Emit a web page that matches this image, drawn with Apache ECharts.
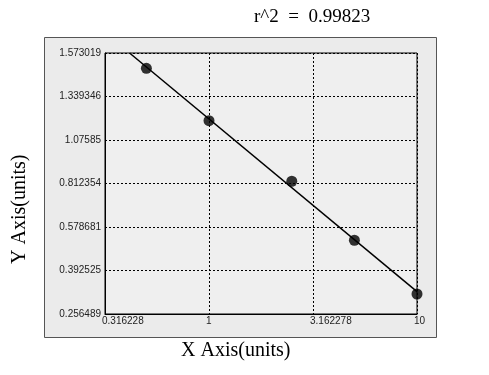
<!DOCTYPE html>
<html>
<head>
<meta charset="utf-8">
<script src="https://cdn.jsdelivr.net/npm/echarts@6/dist/echarts.min.js"></script>
<style>html,body{margin:0;padding:0;background:#fff;}#c{width:489px;height:375px;}</style>
</head>
<body>
<div id="c"></div>
<script>
// ---- data ----
var titleText = 'r^2  =  0.99823';
var xAxisTitle = 'X Axis(units)';
var yAxisTitle = 'Y Axis(units)';
var xTicks = [0.316228, 1, 3.162278, 10];
var xTickLabels = ['0.316228', '1', '3.162278', '10'];
var yTicks = [0.256489, 0.392525, 0.578681, 0.812354, 1.07585, 1.339346, 1.573019];
var yTickLabels = ['0.256489', '0.392525', '0.578681', '0.812354', '1.07585', '1.339346', '1.573019'];
var pointX = [0.5, 1, 2.5, 5, 10];
var pointY = [1.491, 1.193, 0.826, 0.522, 0.319];
var fitX = [0.415, 10];
var fitY = [1.573019, 0.3265];

// y axis is a non-linear scale: ticks evenly spaced; map values between ticks
function yPos(v) {
  for (var i = 0; i < yTicks.length - 1; i++) {
    if (v <= yTicks[i + 1] || i === yTicks.length - 2) {
      return i + (v - yTicks[i]) / (yTicks[i + 1] - yTicks[i]);
    }
  }
}
function xLabel(v) {
  var best = 0, bd = Infinity;
  for (var i = 0; i < xTicks.length; i++) {
    var d = Math.abs(Math.log(v) - Math.log(xTicks[i]));
    if (d < bd) { bd = d; best = i; }
  }
  return xTickLabels[best];
}

var chart = echarts.init(document.getElementById('c'), null, {renderer: 'canvas'});
var dotted = {color: '#000', width: 1, type: [2, 2]};
var serif = '"Liberation Serif", "Times New Roman", serif';
var option = {
  animation: false,
  backgroundColor: '#fff',
  title: {
    text: titleText, left: 249, top: 3,
    textStyle: {fontFamily: 'Liberation Serif, Times New Roman, serif', fontSize: 19, fontWeight: 'normal', color: '#000'}
  },
  graphic: [
    {type: 'rect', z: -10, shape: {x: 44.5, y: 37.5, width: 392, height: 300},
     style: {fill: '#ebebeb', stroke: '#555', lineWidth: 1}},
    {type: 'text', left: 181, top: 341,
     style: {text: xAxisTitle, font: '20px ' + serif, fill: '#000'}},
    {type: 'text', x: 10, y: 264, rotation: Math.PI / 2,
     style: {text: yAxisTitle, font: '20px ' + serif, fill: '#000'}}
  ],
  grid: {left: 105, top: 53, width: 312, height: 261, show: true,
         backgroundColor: '#efefef', borderColor: '#000', borderWidth: 1},
  xAxis: {
    type: 'log', logBase: Math.sqrt(10), min: xTicks[0], max: xTicks[xTicks.length - 1], splitNumber: 3,
    axisLine: {show: true, lineStyle: {color: '#000'}},
    axisTick: {show: false},
    splitLine: {show: true, lineStyle: dotted},
    axisLabel: {formatter: xLabel, align: 'left', margin: 2, padding: [0, 0, 0, -3],
                fontFamily: 'Liberation Sans, Arial, sans-serif', fontSize: 10, color: '#222',
                showMinLabel: true, showMaxLabel: true}
  },
  yAxis: {
    type: 'value', min: 0, max: yTicks.length - 1, interval: 1,
    axisLine: {show: true, lineStyle: {color: '#000'}},
    axisTick: {show: false},
    splitLine: {show: true, lineStyle: dotted},
    axisLabel: {formatter: function (v) { return yTickLabels[Math.round(v)]; }, margin: 4,
                fontFamily: 'Liberation Sans, Arial, sans-serif', fontSize: 10, color: '#222'}
  },
  series: [
    {type: 'line', data: fitX.map(function (x, i) { return [x, yPos(fitY[i])]; }),
     showSymbol: false, lineStyle: {color: '#000', width: 1.5}, z: 3},
    {type: 'scatter', data: pointX.map(function (x, i) { return [x, yPos(pointY[i])]; }),
     symbol: 'circle', symbolSize: 11, itemStyle: {color: '#000'}, clip: false, z: 4}
  ]
};
chart.setOption(option);
</script>
</body>
</html>
